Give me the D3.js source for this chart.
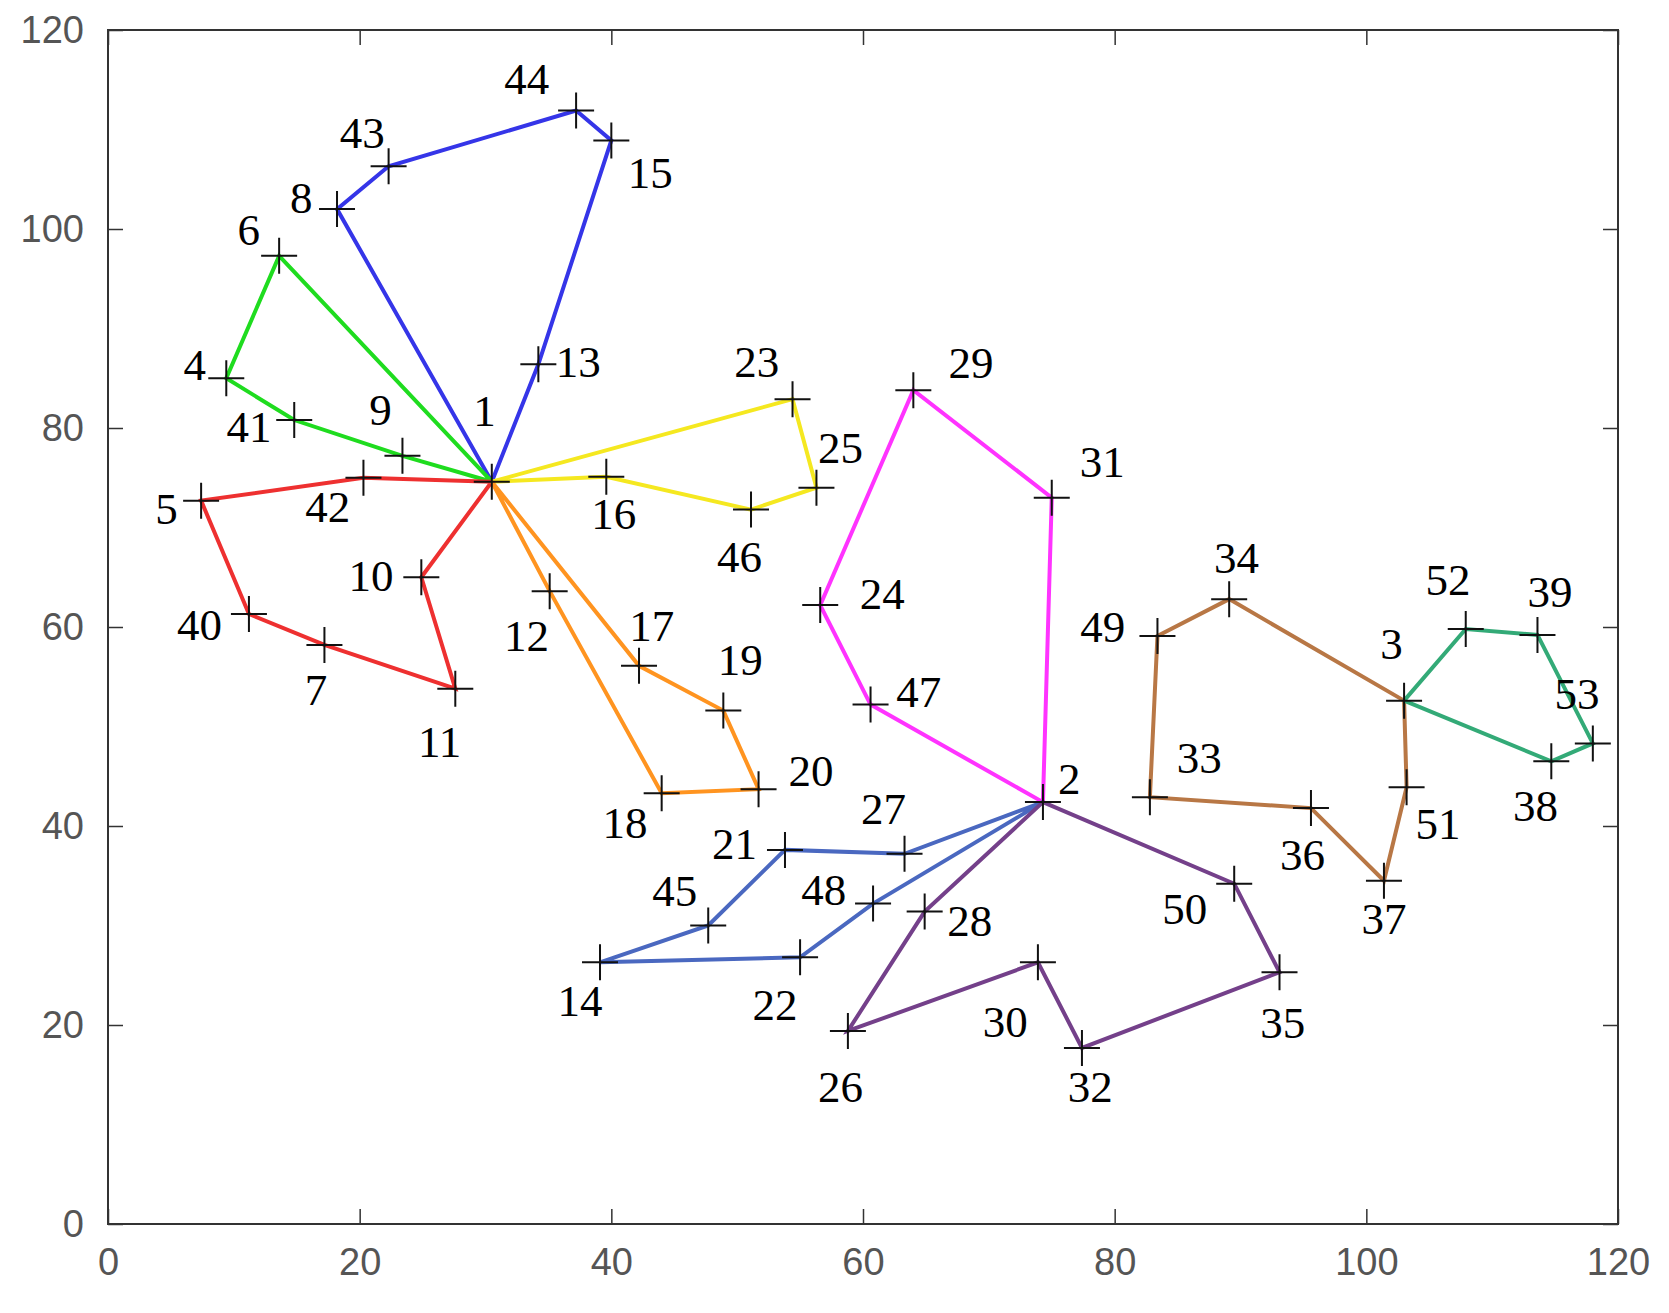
<!DOCTYPE html>
<html>
<head>
<meta charset="utf-8">
<script src="https://cdn.jsdelivr.net/npm/d3@7"></script>
<style>
  body { margin: 0; background: #fff; }
  .tick text { font-family: "Liberation Sans", Arial, sans-serif; font-size: 38px; fill: #555; }
  .node-label { font-family: "Liberation Serif", "Times New Roman", serif; font-size: 45px; fill: #000; }
</style>
</head>
<body>
<div id="chart"></div>
<script>
// node coordinates, index = node id - 1
var nodeX = [30.5, 74.3, 103.0, 9.4, 7.4, 13.6, 17.2, 18.2, 23.4, 24.9,
  27.6, 35.1, 34.2, 39.1, 40.0, 39.6, 42.2, 44.0, 48.9, 51.7,
  53.8, 55.0, 54.4, 56.6, 56.3, 58.8, 63.3, 64.9, 64.0, 73.9,
  75.0, 77.4, 82.8, 89.1, 93.1, 95.6, 101.4, 114.7, 113.6, 11.2,
  14.8, 20.3, 22.3, 37.2, 47.7, 51.1, 60.6, 60.8, 83.4, 89.5,
  103.2, 107.9, 118.0];
var nodeY = [74.6, 42.4, 52.6, 85.0, 72.7, 97.3, 58.2, 102.0, 77.2, 65.0,
  53.8, 63.6, 86.4, 26.3, 108.9, 75.1, 56.1, 43.3, 51.6, 43.7,
  37.6, 26.8, 82.9, 62.2, 74.0, 19.4, 37.2, 31.4, 83.8, 26.3,
  73.0, 17.7, 42.9, 62.8, 25.3, 41.8, 34.5, 46.5, 59.2, 61.3,
  80.8, 75.0, 106.3, 111.9, 30.0, 71.8, 52.2, 32.2, 59.1, 34.2,
  43.9, 59.8, 48.3];

var routes = [
  [1, 8, 43, 44, 15, 13, 1],
  [1, 6, 4, 41, 9, 1],
  [1, 42, 5, 40, 7, 11, 10, 1],
  [1, 16, 46, 25, 23, 1],
  [1, 12, 18, 20, 19, 17, 1],
  [2, 47, 24, 29, 31, 2],
  [2, 27, 21, 45, 14, 22, 48, 2],
  [2, 28, 26, 30, 32, 35, 50, 2],
  [3, 34, 49, 33, 36, 37, 51, 3],
  [3, 52, 39, 53, 38, 3]
];
var routeColors = ["#3535e8", "#1fdc1f", "#ee3030", "#f5e820", "#ff9420",
  "#ff33ff", "#4a68c0", "#74408a", "#b87745", "#33aa77"];

var xTicks = [0, 20, 40, 60, 80, 100, 120];
var yTicks = [0, 20, 40, 60, 80, 100, 120];

// label offsets in px (layout only)
var labelOffset = {
  1: [-7, -67], 2: [25, -22], 3: [-12, -54], 4: [-30, -13], 5: [-33, 8],
  6: [-29, -25], 7: [-8, 43], 8: [-34, -11], 9: [-21, -44], 10: [-48, -1],
  11: [-15, 51], 12: [-22, 43], 13: [38, -2], 14: [-19, 37], 15: [37, 31],
  16: [7, 35], 17: [12, -38], 18: [-35, 28], 19: [16, -48], 20: [50, -17],
  21: [-48, -6], 22: [-24, 45], 23: [-34, -35], 24: [59, -11], 25: [23, -38],
  26: [-7, 53], 27: [-20, -43], 28: [43, 9], 29: [55, -26], 30: [-31, 57],
  31: [48, -34], 32: [8, 37], 33: [47, -37], 34: [7, -39], 35: [3, 48],
  36: [-8, 45], 37: [0, 36], 38: [-15, 43], 39: [12, -41], 40: [-47, 10],
  41: [-43, 7], 42: [-34, 28], 43: [-25, -32], 44: [-47, -30], 45: [-32, -33],
  46: [-11, 45], 47: [46, -12], 48: [-47, -13], 49: [-52, -9], 50: [-47, 24],
  51: [30, 35], 52: [-17, -47], 53: [-15, -47]
};
var labelScale = 1.05;

var svgWidth = 1669, svgHeight = 1313;
var margin = { top: 30, right: 51, bottom: 89, left: 108 };
var width = svgWidth - margin.left - margin.right;
var height = svgHeight - margin.top - margin.bottom;

var svg = d3.select("#chart").append("svg")
  .attr("width", svgWidth).attr("height", svgHeight);
var g = svg.append("g").attr("transform", `translate(${margin.left}, ${margin.top})`);

var x = d3.scaleLinear().domain([0, 120]).range([0, width]);
var y = d3.scaleLinear().domain([0, 120]).range([height, 0]);

// axes, ticks inward like MATLAB
function styleAxis(sel) {
  sel.select(".domain").remove();
  sel.selectAll(".tick line").attr("stroke", "#333").attr("stroke-width", 1.5);
}
g.append("g").attr("transform", `translate(0, ${height})`)
  .call(d3.axisBottom(x).tickValues(xTicks).tickSizeInner(-15).tickPadding(24))
  .call(styleAxis);
g.append("g")
  .call(d3.axisTop(x).tickValues(xTicks).tickSizeInner(-15).tickFormat(""))
  .call(styleAxis);
g.append("g")
  .call(d3.axisLeft(y).tickValues(yTicks).tickSizeInner(-15).tickPadding(24))
  .call(styleAxis);
g.append("g").attr("transform", `translate(${width}, 0)`)
  .call(d3.axisRight(y).tickValues(yTicks).tickSizeInner(-15).tickFormat(""))
  .call(styleAxis);
g.append("rect").attr("width", width).attr("height", height)
  .attr("fill", "none").attr("stroke", "#333").attr("stroke-width", 2);

var line = d3.line()
  .x(id => x(nodeX[id - 1]))
  .y(id => y(nodeY[id - 1]));

g.selectAll(".route").data(routes).enter().append("path")
  .attr("d", line)
  .attr("fill", "none")
  .attr("stroke", (d, i) => routeColors[i])
  .attr("stroke-width", 4);

var ids = d3.range(1, nodeX.length + 1);
var plus = g.selectAll(".node").data(ids).enter().append("g")
  .attr("transform", id => `translate(${x(nodeX[id - 1])}, ${y(nodeY[id - 1])})`);
plus.append("path").attr("d", "M-18,0H18M0,-18V18")
  .attr("stroke", "#111").attr("stroke-width", 2);
plus.append("text").attr("class", "node-label")
  .attr("x", id => labelOffset[id][0] * labelScale)
  .attr("y", id => labelOffset[id][1] * labelScale)
  .attr("text-anchor", "middle")
  .attr("dominant-baseline", "central")
  .text(id => id);
</script>
</body>
</html>
